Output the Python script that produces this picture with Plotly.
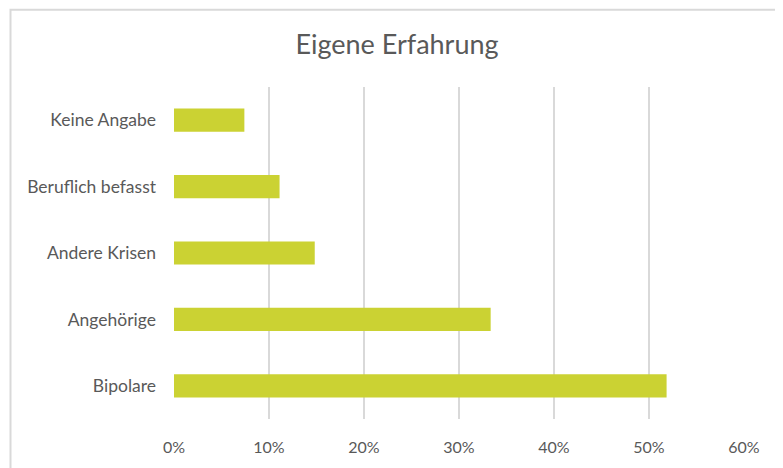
import plotly.graph_objects as go

categories = ["Bipolare", "Angehörige", "Andere Krisen", "Beruflich befasst", "Keine Angabe"]
values = [14/27, 9/27, 4/27, 3/27, 2/27]
tick_vals = [0, 0.1, 0.2, 0.3, 0.4, 0.5, 0.6]
tick_text = ["0%", "10%", "20%", "30%", "40%", "50%", "60%"]

fig = go.Figure(go.Bar(
    x=values, y=categories, orientation="h",
    marker=dict(color="#cbd233", line=dict(width=0)),
    hoverinfo="skip",
))

# page body has an 8px offset; compensate
W, H = 775, 460
font_family = "Lato, Open Sans, sans-serif"
fig.update_layout(
    width=W, height=H,
    margin=dict(l=166, r=39, t=79, b=46),
    paper_bgcolor="white", plot_bgcolor="white",
    bargap=0.65,
    showlegend=False,
    title=dict(text="Eigene Erfahrung", x=(397 - 8) / W, xref="container", xanchor="center",
               y=1 - (45 - 8) / H, yref="container", yanchor="middle",
               font=dict(family=font_family, size=27, color="#595959")),
    xaxis=dict(range=[0, 0.6], tickvals=tick_vals, ticktext=tick_text,
               showgrid=True, gridcolor="#d9d9d9", gridwidth=1.5,
               zeroline=False, showline=False, ticks="",
               ticklabelstandoff=17,
               tickfont=dict(family=font_family, size=16, color="#595959"),
               fixedrange=True),
    yaxis=dict(showgrid=False, zeroline=False, showline=False, ticks="",
               ticklabelstandoff=17,
               tickfont=dict(family=font_family, size=17.5, color="#595959"),
               fixedrange=True),
    shapes=[dict(type="rect", xref="paper", yref="paper",
                 x0=(10.5 - 174) / 570, x1=(800 - 174) / 570,
                 y0=-(480 - 422) / 335, y1=1 + (87 - 9) / 335,
                 line=dict(color="#d9d9d9", width=2), fillcolor="rgba(0,0,0,0)")],
)

fig.write_html("out.html")
